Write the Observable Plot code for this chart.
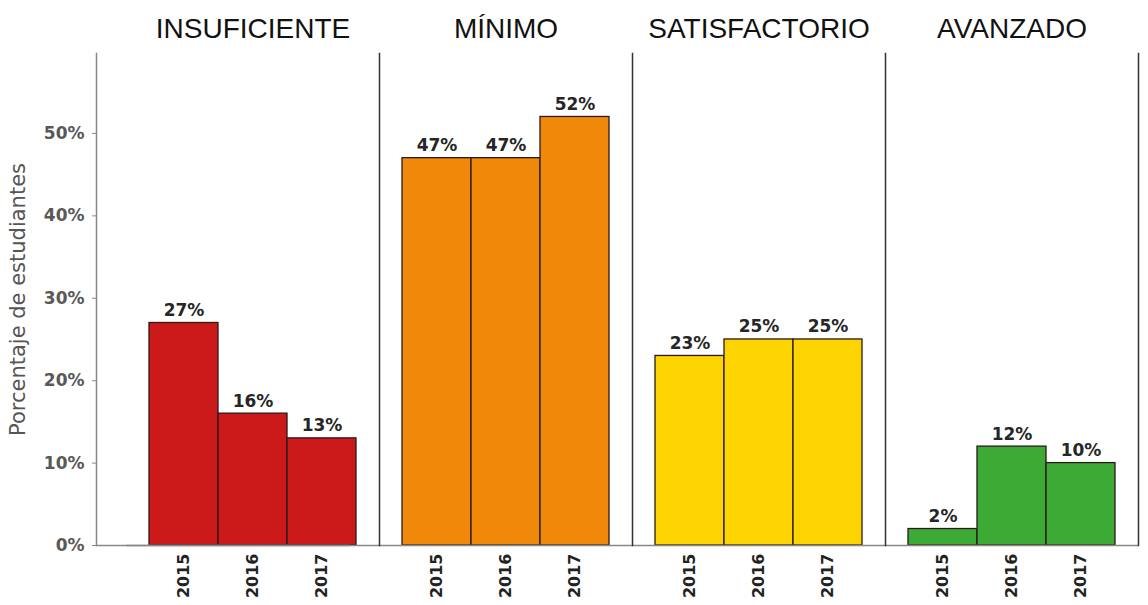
<!DOCTYPE html>
<html><head><meta charset="utf-8">
<script src="https://cdn.jsdelivr.net/npm/d3@7"></script>
<script src="https://cdn.jsdelivr.net/npm/@observablehq/plot@0.6"></script>
<style>body{margin:0;background:#fff}</style>
</head><body><div id="chart"></div>
<script>
const levels = ["INSUFICIENTE", "MÍNIMO", "SATISFACTORIO", "AVANZADO"];
const years = ["2015", "2016", "2017"];
const insuficiente = [27, 16, 13];
const minimo = [47, 47, 52];
const satisfactorio = [23, 25, 25];
const avanzado = [2, 12, 10];
const levelColors = ["#cc1a1a", "#f0890a", "#fdd300", "#3caa35"];
const yTicks = [0, 10, 20, 30, 40, 50];
const yLabel = "Porcentaje de estudiantes";

const series = [insuficiente, minimo, satisfactorio, avanzado];
const data = levels.flatMap((lv, i) => years.map((yr, j) => ({level: lv, year: yr, value: series[i][j]})));

const chart = Plot.plot({
  width: 1148, height: 605,
  marginLeft: 125, marginRight: 10, marginTop: 53, marginBottom: 60,
  style: {fontFamily: "'DejaVu Sans', sans-serif", background: "#fff"},
  fx: {domain: levels, padding: 0, label: null},
  x: {domain: years, paddingInner: 0, paddingOuter: 0.31, label: null},
  y: {domain: [0, 59.7], label: null},
  color: {domain: levels, range: levelColors},
  marks: [
    Plot.barY(data, {fx: "level", x: "year", y: "value", fill: "level", stroke: "#2a1a1a", strokeWidth: 1.3}),
    Plot.text(data, {fx: "level", x: "year", y: "value", text: d => d.value + "%", lineAnchor: "bottom", dy: -7, fontSize: 17, fontWeight: "bold", fill: "#262626"}),
    Plot.ruleY([0], {stroke: "#888", strokeWidth: 1.5}),
    Plot.ruleY([0], {stroke: "#888", strokeWidth: 1.5, dx: -30, facetAnchor: "left"}),
    Plot.frame({anchor: "right", stroke: "#333", strokeWidth: 1.5}),
    Plot.frame({anchor: "left", stroke: "#888", strokeWidth: 1.5, dx: -30, facetAnchor: "left"}),
    Plot.axisY(yTicks, {anchor: "left", dx: -30, tickSize: 4, tickPadding: 8, stroke: "#888", fill: "#595959", fontSize: 17, fontWeight: "bold", tickFormat: d => d + "%", label: null}),
    Plot.axisY(yTicks, {anchor: "left", tickSize: 0, tickFormat: () => "", label: yLabel, labelAnchor: "center", labelArrow: "none", labelOffset: 116, fontSize: 21, fill: "#555"}),
    Plot.axisX({anchor: "bottom", tickRotate: -90, tickSize: 0, tickPadding: 8, fontSize: 16, fontWeight: "bold", fill: "#222", label: null}),
    Plot.axisFx({anchor: "top", tickSize: 0, tickPadding: 16, fontSize: 28, fontFamily: "'Liberation Sans', Arial, sans-serif", fill: "#111", label: null})
  ]
});
document.getElementById("chart").appendChild(chart);
</script>
</body></html>
